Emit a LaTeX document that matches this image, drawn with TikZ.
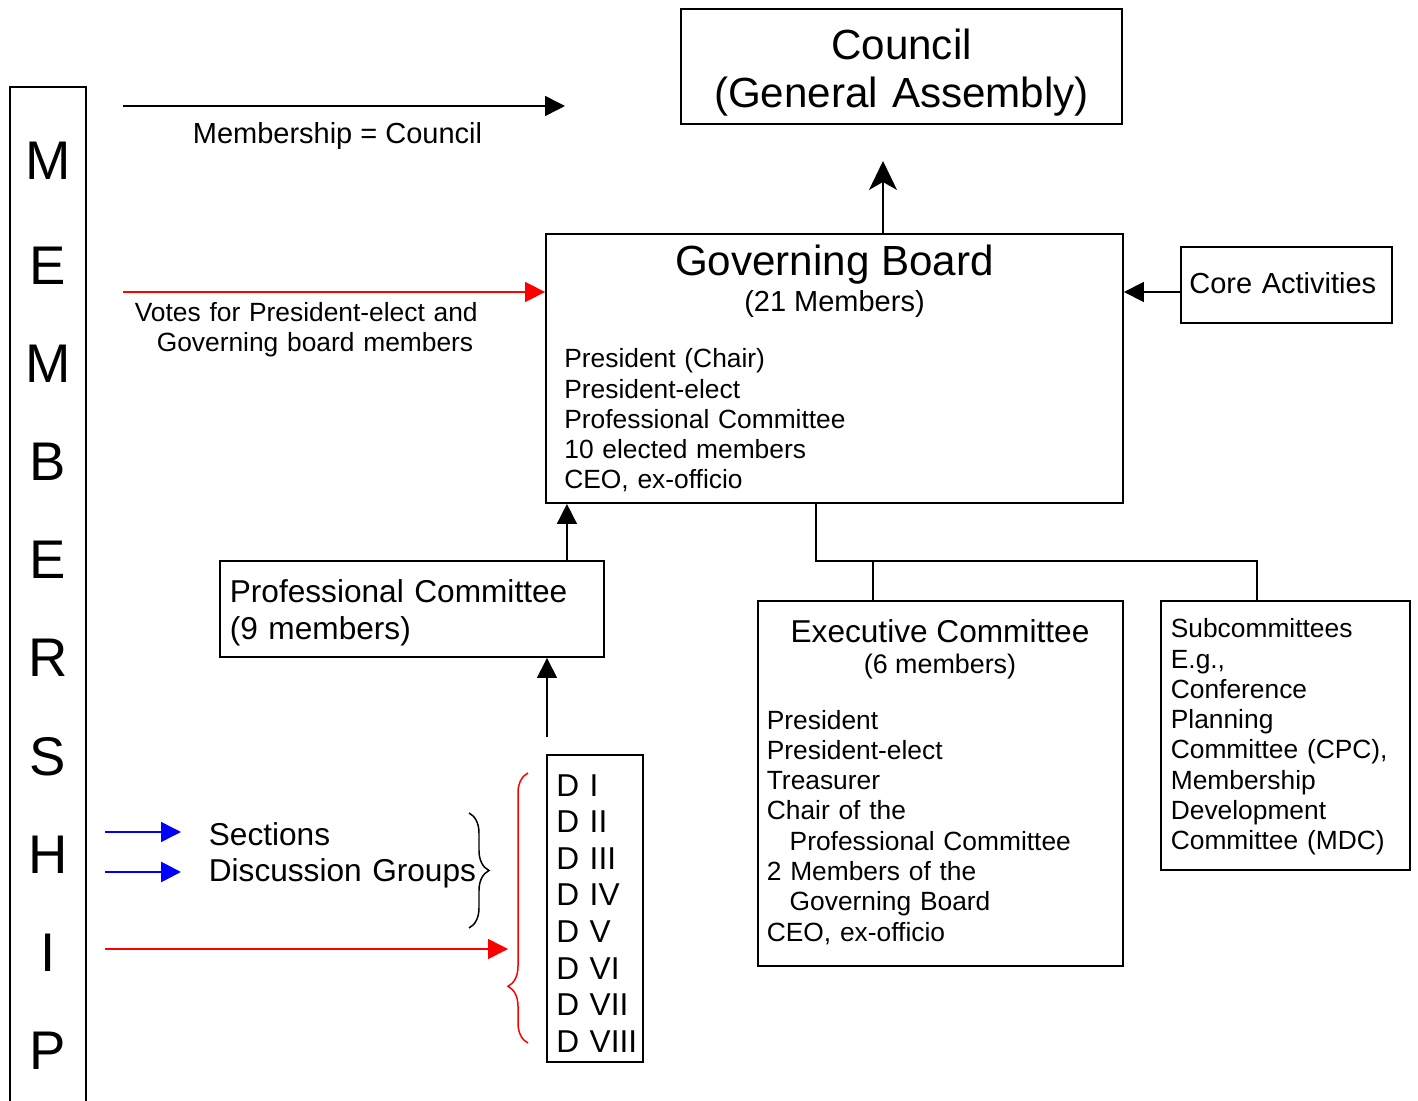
\documentclass[tikz,border=0pt]{standalone}
\usepackage{fontspec}
\setmainfont{Liberation Sans}
\usetikzlibrary{arrows.meta,decorations.pathreplacing}
\newcommand\fsz[2]{\fontsize{#1}{#2}\selectfont}

\begin{document}
\begin{tikzpicture}[x=0.02cm, y=-0.02cm,
    box/.style={draw, line width=1.1pt, inner sep=0pt},
    link/.style={line width=1.1pt},
    arr/.style={line width=0.85pt, -{Triangle[length=0.4cm, width=0.4cm]}},
    redarr/.style={arr, red},
    bluearr/.style={arr, blue},
    txt/.style={inner sep=0pt, anchor=base west, align=left, text width=#1},
    ctxt/.style={inner sep=0pt, anchor=base},
    brc/.style={line width=0.85pt, decorate, decoration={brace, amplitude=0.4cm, #1}},
  ]
  \useasboundingbox (0,0) rectangle (1418,1101);

  % membership column
  \draw[link] (10,1101) |- (86,87) -- (86,1101);
  \foreach \l/\y [count=\i] in {M/180, E/285, M/383, B/481, E/579, R/677, S/775, H/873, I/971, P/1069}
    \node[ctxt, font=\fsz{31}{31}] (mem\i) at (48,\y) {\l};

  % boxes
  \node[box, minimum width=8.82cm, minimum height=2.3cm] (council) at (901.5,66.5) {};
  \node[box, minimum width=11.54cm, minimum height=5.38cm] (gb) at (834.5,368.5) {};
  \node[box, minimum width=4.22cm, minimum height=1.52cm] (core) at (1286.5,285) {};
  \node[box, minimum width=7.68cm, minimum height=1.92cm] (pc) at (412,609) {};
  \node[box, minimum width=1.92cm, minimum height=6.14cm] (dbox) at (595,908.5) {};
  \node[box, minimum width=7.3cm, minimum height=7.3cm] (exec) at (940.5,783.5) {};
  \node[box, minimum width=4.98cm, minimum height=5.38cm] (sub) at (1285.5,735.5) {};

  % texts
  \node[txt=8.8cm, align=center, anchor=base, font=\fsz{24}{27.2}] (counciltxt) at (901.5,60)
    {Council\\(General Assembly)};
  \node[ctxt, font=\fsz{24}{24}] (gbtitle) at (834.5,275.5) {Governing Board};
  \node[ctxt, font=\fsz{16.5}{16.5}] (gbsize) at (834.5,312) {(21 Members)};
  \node[txt=10cm, font=\fsz{15}{17.2}] (gbbody) at (564,368)
    {President (Chair)\\President-elect\\Professional Committee\\10 elected members\\CEO, ex-officio};
  \node[txt=4cm, font=\fsz{16.5}{16.5}] (coretxt) at (1189,294) {Core Activities};
  \node[txt=7cm, font=\fsz{18}{20.9}] (pctxt) at (229.5,603) {Professional Committee\\(9 members)};
  \node[ctxt, font=\fsz{18}{18}] (exectitle) at (940,643) {Executive Committee};
  \node[ctxt, font=\fsz{15.3}{15.3}] (execsize) at (940,674) {(6 members)};
  \node[txt=7cm, font=\fsz{15}{17.25}] (execbody) at (766.5,729)
    {President\\President-elect\\Treasurer\\Chair of the\\\hspace*{13pt}Professional Committee\\
     2 Members of the\\\hspace*{13pt}Governing Board\\CEO, ex-officio};
  \node[txt=4.8cm, font=\fsz{15}{17.2}] (subbody) at (1170.5,638)
    {Subcommittees\\E.g.,\\Conference\\Planning\\Committee (CPC),\\Membership\\Development\\Committee (MDC)};
  \node[txt=1.8cm, font=\fsz{18}{20.85}] (dlist) at (556,796)
    {D I\\D II\\D III\\D IV\\D V\\D VI\\D VII\\D VIII};
  \node[txt=6cm, font=\fsz{18}{20.6}] (secttxt) at (208.5,845.5) {Sections\\Discussion Groups};
  \node[ctxt, font=\fsz{16.5}{16.5}] (mctxt) at (337.5,144) {Membership = Council};
  \node[txt=8cm, font=\fsz{15}{16.8}] (votetxt) at (134.5,322)
    {Votes for President-elect and\\\hspace*{12.5pt}Governing board members};

  % arrows
  \coordinate (mcs) at (123,106);
  \coordinate (mce) at (565,106);
  \draw[arr] (mcs) -- (mce);
  \coordinate (vts) at (123,292);
  \draw[redarr] (vts) -- (vts -| gb.west);
  \coordinate (cup) at (883,161);
  \draw[line width=0.85pt, -{Stealth[length=0.58cm, width=0.56cm, inset=0.16cm]}] (gb.north -| cup) -- (cup);
  \draw[arr] (core.west |- vts) -- (gb.east |- vts);
  \draw[arr] ([xshift=-0.76cm]pc.north east) -- ([xshift=-0.76cm]pc.north east |- gb.south);
  \coordinate (dup) at (547,737);
  \draw[arr] (dup) -- (dup |- pc.south);
  \coordinate (bl1) at (105,832);
  \coordinate (bl1e) at (181,832);
  \coordinate (bl2) at (105,872);
  \coordinate (bl2e) at (181,872);
  \draw[bluearr] (bl1) -- (bl1e);
  \draw[bluearr, line width=1.6pt] (bl2) -- (bl2e);
  \coordinate (rd) at (105,949);
  \coordinate (rde) at (508,949);
  \draw[redarr] (rd) -- (rde);

  % tree below the board
  \coordinate (tb) at (816,561);
  \coordinate (te) at (1257,561);
  \coordinate (tx) at (873,561);
  \draw[link] (gb.south -| tb) -- (tb) -- (te) -- (te |- sub.north);
  \draw[link] (tx) -- (tx |- exec.north);

  % braces
  \draw[brc={aspect=0.21}, red] (528,1043) -- (528,773);
  \draw[brc={aspect=0.5}] (469,813) -- (469,928);
\end{tikzpicture}
\end{document}
